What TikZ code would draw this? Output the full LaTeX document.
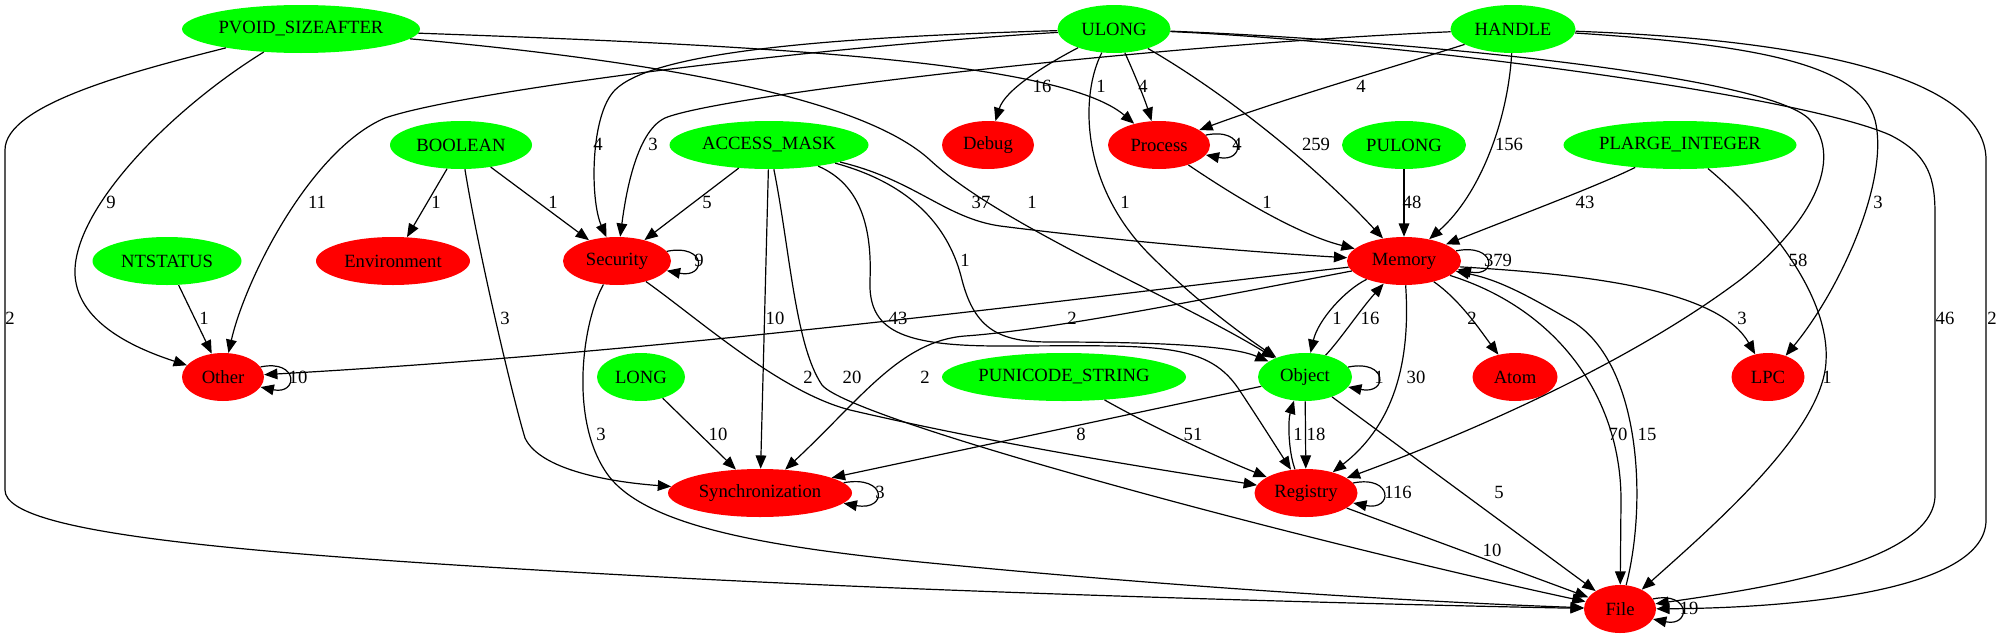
\documentclass[tikz,border=0pt]{standalone}
\usepackage{fontspec}
\setmainfont{Liberation Serif}
\usetikzlibrary{shapes.geometric,arrows.meta}
\definecolor{gvgreen}{HTML}{00FF00}
\definecolor{gvred}{HTML}{FF0000}
\newcommand{\elab}[4]{\node[lab] (#1) at (#2,#3) {#4};}
\begin{document}
\begin{tikzpicture}[x=0.75pt,y=-0.75pt,
  every node/.style={font=\fontsize{14}{16}\selectfont},
  wd/.style={minimum width=#1*0.75pt},
  tnode/.style={ellipse, fill=gvgreen, minimum height=36pt, inner sep=0pt},
  fnode/.style={ellipse, fill=gvred, minimum height=36pt, inner sep=0pt},
  e/.style={line width=0.9pt, -{Triangle[length=10pt,width=8pt]}},
  lab/.style={inner sep=0pt}]
\useasboundingbox (0,0) rectangle (2001,639);
% nodes
\node[tnode,wd=238] (pvoid) at (301,29) {PVOID\_SIZEAFTER};
\node[tnode,wd=113] (ulong) at (1114,29) {ULONG};
\node[tnode,wd=125] (handle) at (1513,29) {HANDLE};
\node[tnode,wd=142] (boolean) at (461,145) {BOOLEAN};
\node[tnode,wd=199] (access) at (769,145) {ACCESS\_MASK};
\node[fnode,wd=92] (debug) at (988,145) {Debug};
\node[fnode,wd=102] (process) at (1159,145) {Process};
\node[tnode,wd=124] (pulong) at (1404,145) {PULONG};
\node[tnode,wd=233] (plarge) at (1680,145) {PLARGE\_INTEGER};
\node[tnode,wd=149] (ntstatus) at (167,261) {NTSTATUS};
\node[fnode,wd=154] (environment) at (393,261) {Environment};
\node[fnode,wd=108] (security) at (617,261) {Security};
\node[fnode,wd=114] (memory) at (1404,261) {Memory};
\node[fnode,wd=82] (other) at (223,377) {Other};
\node[tnode,wd=88] (long) at (641,377) {LONG};
\node[tnode,wd=244] (punicode) at (1064,377) {PUNICODE\_STRING};
\node[tnode,wd=94] (object) at (1305,377) {Object};
\node[fnode,wd=85] (atom) at (1515,377) {Atom};
\node[fnode,wd=73] (lpc) at (1768,377) {LPC};
\node[fnode,wd=184] (sync) at (760,493) {Synchronization};
\node[fnode,wd=103] (registry) at (1306,493) {Registry};
\node[fnode,wd=72] (file) at (1620,609) {File};
% PVOID_SIZEAFTER
\draw[e] (pvoid) .. controls (130,72) and (5,105) .. (5,150) -- (5,490) .. controls (5,535) and (250,555) .. (680,578) .. controls (1000,595) and (1450,606) .. (file);
\draw[e] (pvoid) .. controls (170,110) and (72,210) .. (75,275) .. controls (78,325) and (140,350) .. (other);
\draw[e] (pvoid) .. controls (750,45) and (1060,60) .. (process);
\draw[e] (pvoid) .. controls (700,65) and (870,105) .. (930,160) .. controls (1000,225) and (1180,300) .. (object);
% ULONG
\draw[e] (ulong) .. controls (1045,65) and (1005,90) .. (debug);
\draw[e] (ulong) .. controls (1135,75) and (1145,100) .. (process);
\draw[e] (ulong) .. controls (1080,95) and (1080,185) .. (1150,255) .. controls (1200,305) and (1250,340) .. (object);
\draw[e] (ulong) .. controls (1220,90) and (1310,160) .. (memory);
\draw[e] (ulong) .. controls (800,38) and (650,55) .. (615,90) .. controls (590,115) and (590,200) .. (security);
\draw[e] (ulong) .. controls (800,48) and (460,92) .. (385,118) .. controls (310,150) and (245,280) .. (other);
\draw[e] (ulong) .. controls (1400,40) and (1770,75) .. (1810,120) .. controls (1845,160) and (1810,225) .. (1740,280) .. controls (1620,370) and (1450,440) .. (registry);
\draw[e] (ulong) .. controls (1400,42) and (1800,95) .. (1890,135) .. controls (1930,155) and (1935,180) .. (1935,215) -- (1935,495) .. controls (1935,565) and (1750,590) .. (file);
% HANDLE
\draw[e] (handle) .. controls (1400,65) and (1280,100) .. (process);
\draw[e] (handle) .. controls (1150,45) and (720,95) .. (665,118) .. controls (635,132) and (625,200) .. (security);
\draw[e] (handle) .. controls (1508,120) and (1480,195) .. (memory);
\draw[e] (handle) .. controls (1760,45) and (1860,65) .. (1875,120) .. controls (1890,180) and (1840,290) .. (lpc);
\draw[e] (handle) .. controls (1820,40) and (1986,80) .. (1986,160) -- (1986,520) .. controls (1986,590) and (1800,608) .. (file);
% BOOLEAN
\draw[e] (boolean) -- (environment);
\draw[e] (boolean) -- (security);
\draw[e] (boolean) .. controls (478,250) and (512,395) .. (525,438) .. controls (540,470) and (610,482) .. (sync);
% ACCESS_MASK
\draw[e] (access) -- (security);
\draw[e] (access) -- (sync);
\draw[e] (access) .. controls (790,250) and (795,345) .. (822,385) .. controls (850,420) and (1300,540) .. (file);
\draw[e] (access) .. controls (915,180) and (945,218) .. (1000,226) .. controls (1150,245) and (1300,255) .. (memory);
\draw[e] (access) .. controls (915,185) and (950,230) .. (962,280) .. controls (975,330) and (1000,342) .. (1050,342) .. controls (1150,342) and (1230,345) .. (object);
\draw[e] (access) .. controls (862,185) and (872,230) .. (870,280) .. controls (868,330) and (900,346) .. (1000,346) .. controls (1150,346) and (1205,340) .. (1238,388) .. controls (1258,418) and (1275,445) .. (registry);
% Process, PULONG, PLARGE_INTEGER, NTSTATUS, LONG, PUNICODE_STRING
\draw[e] (process.12) .. controls +(40,-8) and +(40,8) .. (process.-12);
\draw[e] (process) .. controls (1240,200) and (1300,235) .. (memory);
\draw[e] (pulong) -- (memory);
\draw[e] (plarge) .. controls (1600,185) and (1520,215) .. (memory);
\draw[e] (plarge) .. controls (1775,225) and (1830,300) .. (1826,362) .. controls (1822,430) and (1720,520) .. (file);
\draw[e] (ntstatus) -- (other);
\draw[e] (long) -- (sync);
\draw[e] (punicode) .. controls (1140,420) and (1200,450) .. (registry);
% Security
\draw[e] (security.11) .. controls +(40,-8) and +(40,8) .. (security.-11);
\draw[e] (security) .. controls (700,320) and (780,392) .. (850,410) .. controls (1000,445) and (1150,468) .. (registry);
\draw[e] (security) .. controls (583,320) and (568,420) .. (608,475) .. controls (645,525) and (760,545) .. (900,560) .. controls (1200,590) and (1450,603) .. (file);
% Memory
\draw[e] (memory.11) .. controls +(40,-8) and +(40,8) .. (memory.-9);
\draw[e] (memory) .. controls (1345,290) and (1318,320) .. (object);
\draw[e] (memory) .. controls (1460,300) and (1480,330) .. (atom);
\draw[e] (memory.-6) .. controls (1600,275) and (1720,292) .. (lpc);
\draw[e] (memory) .. controls (1410,350) and (1400,420) .. (registry);
\draw[e] (memory) .. controls (1560,310) and (1621,400) .. (1621,500) -- (file);
\draw[e] (memory) .. controls (1100,295) and (700,350) .. (other);
\draw[e] (memory) .. controls (1200,300) and (1050,330) .. (965,336) .. controls (900,341) and (860,400) .. (sync);
% Object
\draw[e] (object.13) .. controls +(40,-8) and +(40,8) .. (object.-13);
\draw[e] (object) .. controls (1340,340) and (1360,310) .. (memory);
\draw[e] (object) -- (sync);
\draw[e] (object) -- (registry);
\draw[e] (object) -- (file);
% Registry
\draw[e] (registry.12) .. controls +(40,-8) and +(40,8) .. (registry.-12);
\draw[e] (registry.115) .. controls (1288,450) and (1288,420) .. (object.-115);
\draw[e] (registry) -- (file);
% Synchronization, File, Other
\draw[e] (sync.7) .. controls +(44,-8) and +(44,8) .. (sync.-7);
\draw[e] (file.17) .. controls +(38,-8) and +(38,8) .. (file.-17);
\draw[e] (file) .. controls (1648,500) and (1640,360) .. (1570,320) .. controls (1530,297) and (1500,280) .. (memory);
\draw[e] (other.15) .. controls +(38,-8) and +(38,8) .. (other.-15);
% labels
\elab{a1}{10}{318}{2}
\elab{a2}{111}{202}{9}
\elab{a3}{1101}{86}{1}
\elab{a4}{1032}{202}{1}
\elab{b1}{1042}{86}{16}
\elab{b2}{1143}{86}{4}
\elab{b3}{1125}{202}{1}
\elab{b4}{1316}{144}{259}
\elab{b5}{598}{144}{4}
\elab{b6}{317}{202}{11}
\elab{b7}{1798}{260}{58}
\elab{b8}{1945}{318}{46}
\elab{c1}{1361}{86}{4}
\elab{c2}{653}{144}{3}
\elab{c3}{1509}{144}{156}
\elab{c4}{1878}{202}{3}
\elab{c5}{1992}{318}{2}
\elab{d1}{436}{202}{1}
\elab{d2}{553}{202}{1}
\elab{d3}{505}{318}{3}
\elab{e1}{707}{202}{5}
\elab{e2}{775}{318}{10}
\elab{e3}{852}{377}{20}
\elab{e4}{981}{202}{37}
\elab{e5}{965}{260}{1}
\elab{e6}{898}{318}{43}
\elab{f1}{1237}{144}{4}
\elab{f2}{1267}{202}{1}
\elab{f3}{1412}{202}{48}
\elab{f4}{1585}{202}{43}
\elab{f5}{1827}{377}{1}
\elab{f6}{204}{318}{1}
\elab{f7}{718}{434}{10}
\elab{f8}{1193}{434}{51}
\elab{g1}{699}{260}{9}
\elab{g2}{808}{377}{2}
\elab{g3}{601}{434}{3}
\elab{h1}{1498}{260}{379}
\elab{h2}{1337}{318}{1}
\elab{h3}{1370}{318}{16}
\elab{h4}{1472}{318}{2}
\elab{h5}{1742}{318}{3}
\elab{h6}{1416}{377}{30}
\elab{h7}{1618}{434}{70}
\elab{h8}{1647}{434}{15}
\elab{h9}{1072}{318}{2}
\elab{h10}{925}{377}{2}
\elab{i1}{1379}{377}{1}
\elab{i2}{1081}{434}{8}
\elab{i3}{1316}{434}{18}
\elab{i4}{1298}{434}{1}
\elab{i5}{1499}{492}{5}
\elab{j1}{1398}{492}{116}
\elab{j2}{1492}{550}{10}
\elab{k1}{880}{492}{3}
\elab{k2}{1689}{608}{19}
\elab{k3}{298}{377}{10}
\end{tikzpicture}
\end{document}
